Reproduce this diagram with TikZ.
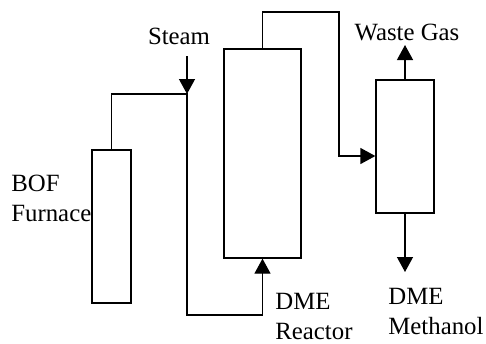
\documentclass[tikz,border=0pt]{standalone}
\usepackage{fontspec}
\setmainfont{Liberation Serif}
\usetikzlibrary{arrows.meta,positioning}

\begin{document}
\begin{tikzpicture}[
    x=0.5pt, y=-0.5pt,
    vessel/.style={draw, rectangle, line width=0.65pt, inner sep=0pt},
    label_text/.style={inner sep=0pt, align=left, font=\fontsize{12.4}{15}\selectfont},
    line/.style={line width=0.65pt},
    arrow/.style={-{Triangle[length=7.5pt, width=8pt]}, line width=0.65pt}
]
    \useasboundingbox (0,0) rectangle (486,343);

    % Vessels
    \node[vessel, minimum width=19.5pt, minimum height=76.5pt] (furnace) at (111.5,226.5) {};
    \node[vessel, minimum width=38.5pt, minimum height=104.5pt] (reactor) at (262.5,153.5) {};
    \node[vessel, minimum width=29pt, minimum height=66.5pt] (separator) at (405,146.5) {};

    % Labels
    \node[label_text, anchor=west] (bof) at (11,198) {BOF\\Furnace};
    \node[label_text] (steam) at (179,36) {Steam};
    \node[label_text, anchor=west] (dmereactor) at (275,316) {DME\\Reactor};
    \node[label_text] (wastegas) at (407,32) {Waste Gas};
    \node[label_text, anchor=west] (products) at (388,311) {DME\\Methanol};

    % Route points
    \coordinate (steamin) at (187,56);
    \coordinate (mix) at (187,94);
    \coordinate (low) at (187,315);
    \coordinate (overhead) at (339,12);
    \coordinate (drop) at (339,156);
    \coordinate (gasout) at (405,45);
    \coordinate (liqout) at (405,272);

    % Furnace gas to reactor
    \draw[arrow] (furnace.north) |- (mix) -- (low) -| (reactor.south);
    \draw[arrow] (steamin) -- (mix);

    % Reactor to separator
    \draw[arrow] (reactor.north) |- (overhead) -- (drop) -- (drop -| separator.west);
    \draw[arrow] (separator.north) -- (gasout);
    \draw[arrow] (separator.south) -- (liqout);
\end{tikzpicture}
\end{document}
